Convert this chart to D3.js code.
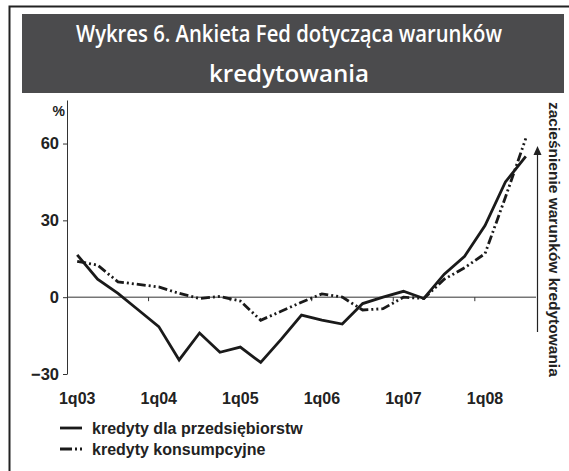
<!DOCTYPE html>
<html lang="pl">
<head>
<meta charset="utf-8">
<title>Wykres 6</title>
<script src="https://cdn.jsdelivr.net/npm/d3@7/dist/d3.min.js"></script>
<style>
  body { margin: 0; background: #fff; }
  svg text { font-family: "Liberation Sans", Arial, sans-serif; }
</style>
</head>
<body>
<script>
// quarters 1q03 .. 3q08
var quarters = ["1q03","2q03","3q03","4q03","1q04","2q04","3q04","4q04",
                "1q05","2q05","3q05","4q05","1q06","2q06","3q06","4q06",
                "1q07","2q07","3q07","4q07","1q08","2q08","3q08"];
var firms = [16.5, 7, 1.5, -5, -11.5, -24.5, -14, -21.5, -19.5, -25.5, -16.5, -7,
             -9, -10.5, -2.5, 0, 2.3, -0.5, 9, 16, 28, 45, 55];
var consumer = [14, 12.5, 6, 5, 4, 1.5, -0.5, 0.3, -1.5, -9, -5.5, -2,
                1.3, 0, -5, -4.5, 0, -0.5, 7, 11.5, 17, 39, 62];
var yTicks = [-30, 0, 30, 60];
var seriesNames = ["kredyty dla przedsiębiorstw", "kredyty konsumpcyjne"];
var titleLines = ["Wykres 6. Ankieta Fed dotycząca warunków", "kredytowania"];
var titleWidths = [426, 160]; // condensed title face

var w = 569, h = 471;
var svg = d3.select("body").append("svg")
    .attr("width", w)
    .attr("height", h);

// frame (left + top)
svg.append("path")
    .attr("d", "M9.5,471V6.5H569")
    .attr("fill", "none")
    .attr("stroke", "#222")
    .attr("stroke-width", 2);

// title box
svg.append("rect")
    .attr("x", 22).attr("y", 14)
    .attr("width", 542).attr("height", 79)
    .attr("fill", "#4b4b4d");

svg.selectAll("text.title")
    .data(titleLines)
    .enter()
    .append("text")
    .attr("class", "title")
    .attr("x", 289)
    .attr("y", function(d, i) { return 42 + i * 40; })
    .attr("text-anchor", "middle")
    .attr("textLength", function(d, i) { return titleWidths[i]; })
    .attr("lengthAdjust", "spacingAndGlyphs")
    .style("font-family", "'Open Sans', sans-serif")
    .style("font-weight", 600)
    .style("font-size", "23px")
    .attr("fill", "#fff")
    .text(function(d) { return d; });

// scales
var x = d3.scaleBand().domain(quarters).range([67, 536]).padding(0);
var y = d3.scaleLinear().domain([-30, 77]).range([374, 100]);
var cx = function(d, i) { return x(quarters[i]) + x.bandwidth() / 2; };

// y axis
var yAxis = svg.append("g")
    .attr("transform", "translate(67,0)")
    .call(d3.axisLeft(y).tickValues(yTicks).tickSize(4).tickPadding(4).tickSizeOuter(0));
yAxis.select(".domain").attr("stroke", "#333");
yAxis.selectAll(".tick line").attr("stroke", "#333");
yAxis.selectAll(".tick text")
    .style("font-size", "16.5px")
    .style("font-weight", "bold")
    .attr("fill", "#222");

svg.append("text")
    .attr("x", 65).attr("y", 116)
    .attr("text-anchor", "end")
    .style("font-size", "14px")
    .style("font-weight", "bold")
    .attr("fill", "#222")
    .text("%");

// x axis on zero line
var yearStarts = quarters.filter(function(q) { return q.charAt(0) === "1"; });
var xAxis = svg.append("g")
    .attr("transform", "translate(0," + y(0) + ")");
xAxis.append("line")
    .attr("x1", x.range()[0]).attr("x2", x.range()[1])
    .attr("stroke", "#333");
xAxis.selectAll("line.tick")
    .data(yearStarts.slice(1))
    .enter()
    .append("line")
    .attr("class", "tick")
    .attr("x1", function(d) { return x(d); })
    .attr("x2", function(d) { return x(d); })
    .attr("y1", 0).attr("y2", 4)
    .attr("stroke", "#333");

svg.selectAll("text.xlab")
    .data(yearStarts)
    .enter()
    .append("text")
    .attr("class", "xlab")
    .attr("x", function(d) { return x(d) + x.bandwidth() / 2; })
    .attr("y", 404)
    .attr("text-anchor", "middle")
    .style("font-size", "16px")
    .style("font-weight", "bold")
    .attr("fill", "#222")
    .text(function(d) { return d; });

// lines
var line = d3.line()
    .x(cx)
    .y(function(d) { return y(d); });

svg.append("path")
    .datum(firms)
    .attr("d", line)
    .attr("fill", "none")
    .attr("stroke", "#1a1a1a")
    .attr("stroke-width", 2.8)
    .attr("stroke-linejoin", "miter");

svg.append("path")
    .datum(consumer)
    .attr("d", line)
    .attr("fill", "none")
    .attr("stroke", "#1a1a1a")
    .attr("stroke-width", 2.8)
    .attr("stroke-dasharray", "9,3,2,3,2,3");

// arrow + rotated label on the right
svg.append("line")
    .attr("x1", 537.5).attr("x2", 537.5)
    .attr("y1", 332).attr("y2", 152)
    .attr("stroke", "#222")
    .attr("stroke-width", 1.2);
svg.append("path")
    .attr("d", "M537.5,146L533.5,155L541.5,155Z")
    .attr("fill", "#222");

svg.append("text")
    .attr("transform", "translate(549,102) rotate(90)")
    .style("font-size", "15.5px")
    .style("font-weight", "bold")
    .attr("fill", "#222")
    .text("zacieśnienie warunków kredytowania");

// legend
var legend = svg.selectAll("g.legend")
    .data(seriesNames)
    .enter()
    .append("g")
    .attr("class", "legend")
    .attr("transform", function(d, i) { return "translate(60," + (428 + i * 21) + ")"; });

legend.append("line")
    .attr("x1", 0).attr("x2", 22)
    .attr("stroke", "#1a1a1a")
    .attr("stroke-width", 2.8)
    .attr("stroke-dasharray", function(d, i) { return i === 0 ? null : "12,3,2,3,2,20"; });

legend.append("text")
    .attr("x", 32).attr("y", 5.5)
    .style("font-size", "16px")
    .style("font-weight", "bold")
    .attr("fill", "#222")
    .text(function(d) { return d; });
</script>
</body>
</html>
